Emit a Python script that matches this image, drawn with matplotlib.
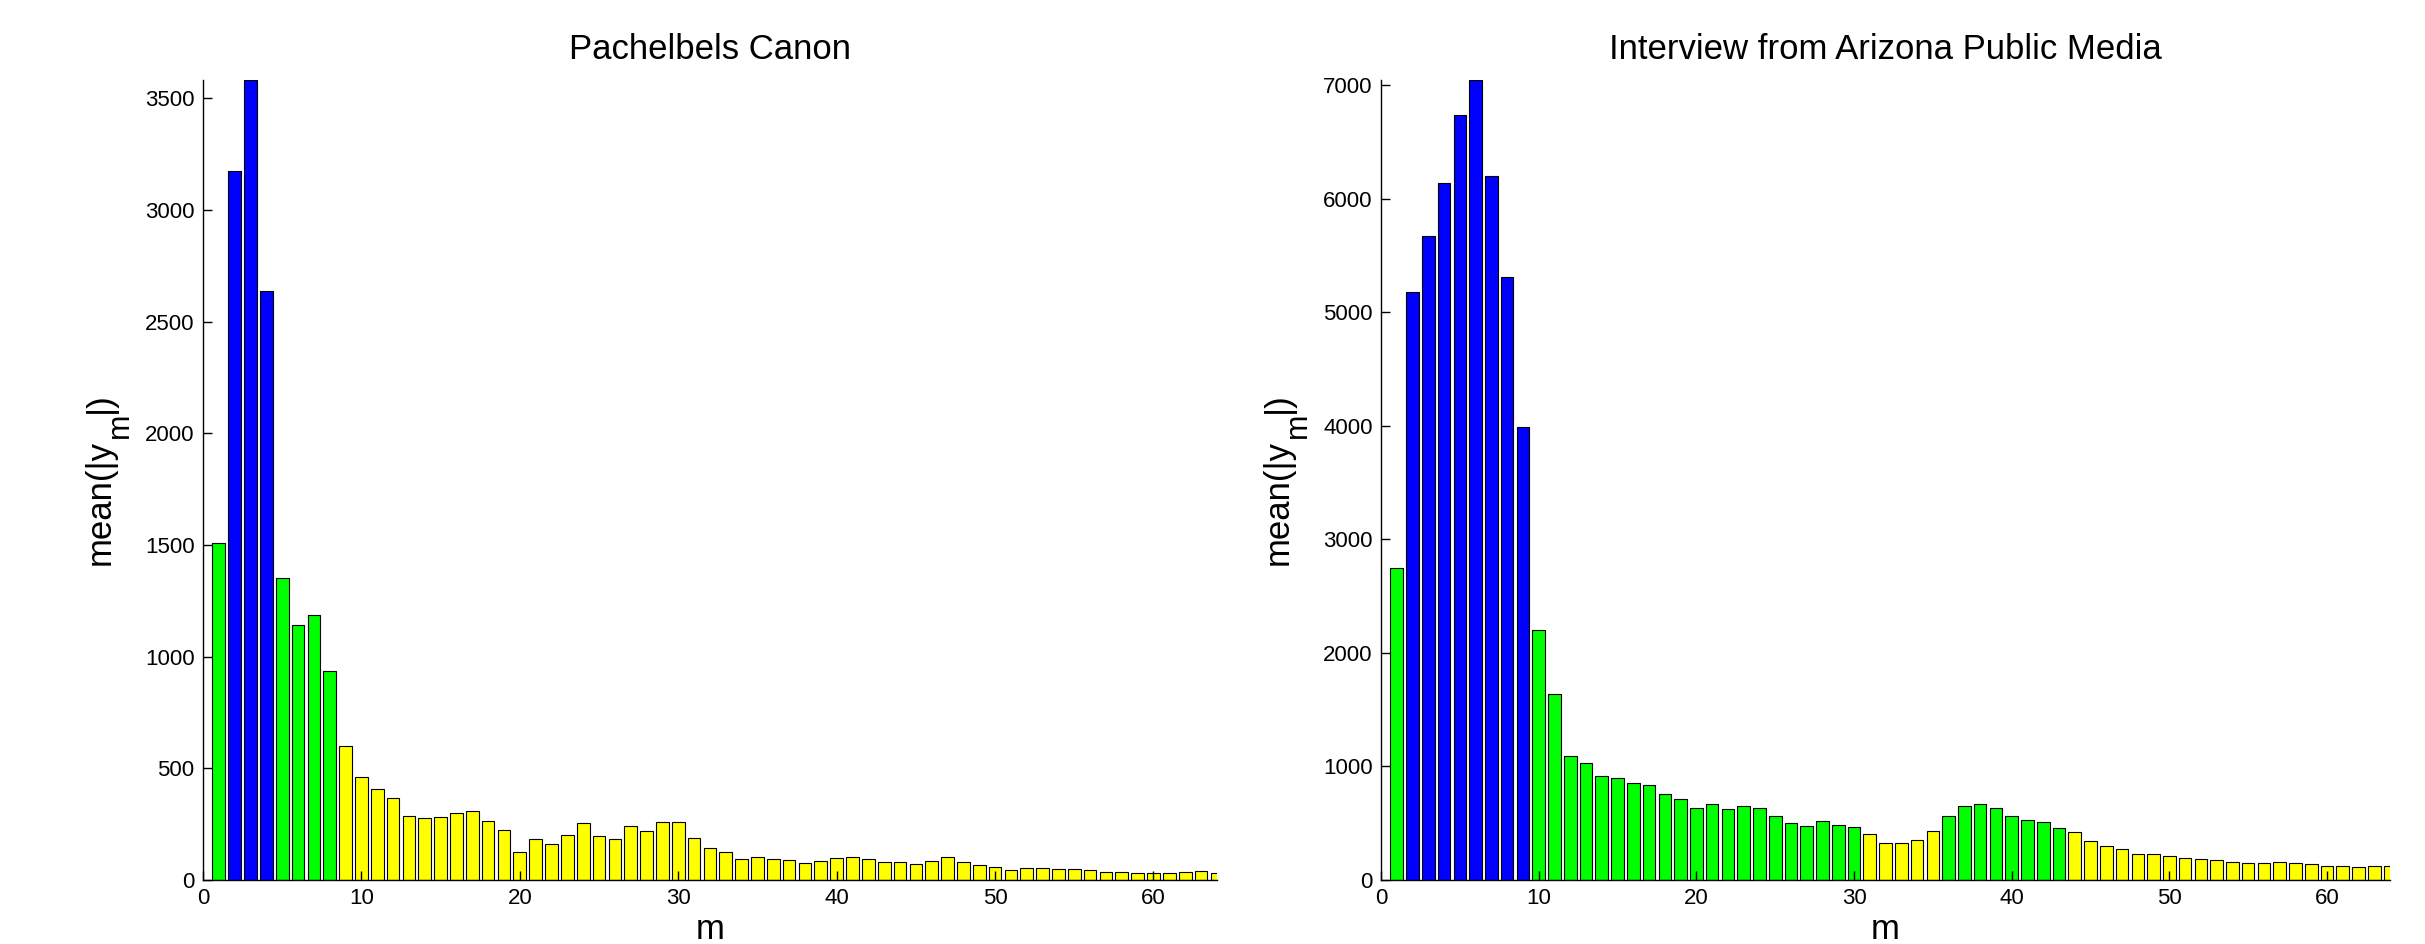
import matplotlib
matplotlib.use('Agg')
import matplotlib.pyplot as plt

plt.rcParams['font.family'] = ['Liberation Sans', 'DejaVu Sans']

# bar index m
m = list(range(1, 65))

# mean(|y_m|) per band
canon = [1510, 3177, 3583, 2640, 1352, 1141, 1185, 935, 600, 460,
         408, 367, 285, 276, 283, 302, 307, 264, 225, 125,
         185, 161, 201, 257, 197, 182, 242, 220, 261, 261,
         188, 145, 127, 94, 104, 96, 89, 78, 83, 97,
         103, 95, 79, 79, 70, 85, 103, 82, 67, 60,
         43, 54, 55, 48, 49, 43, 34, 37, 33, 33,
         31, 36, 40, 33]
interview = [2745, 5175, 5670, 6142, 6741, 7047, 6198, 5307, 3986, 2203,
             1642, 1094, 1033, 920, 896, 858, 835, 759, 712, 637,
             665, 623, 648, 637, 565, 498, 478, 522, 484, 463,
             402, 325, 325, 352, 431, 560, 648, 668, 636, 560,
             531, 507, 454, 425, 340, 296, 270, 229, 226, 214,
             191, 185, 179, 161, 152, 152, 161, 150, 141, 126,
             126, 114, 123, 120]

# group of each bar: b = blue, g = green, y = yellow
canon_groups = 'gbbbgggg' + 'y' * 56
interview_groups = 'g' + 'b' * 8 + 'g' * 21 + 'y' * 5 + 'g' * 8 + 'y' * 21

titles = ['Pachelbels Canon', 'Interview from Arizona Public Media']
ytick_steps = [500, 1000]

group_colors = {'b': '#0000ff', 'g': '#00ff00', 'y': '#ffff00'}


def ylabel_parts(ax, x, y0):
    # mean(|y_m|) with a big, deep subscript like the original
    kw = dict(rotation=90, rotation_mode='anchor', ha='left', va='baseline',
              annotation_clip=False)
    t1 = ax.text(x, y0, 'mean(|y', transform=ax.transAxes, fontsize=25,
                 rotation=90, rotation_mode='anchor', ha='left', va='baseline')
    t2 = ax.annotate('m', xy=(x, 1), xycoords=(ax.transAxes, t1),
                     xytext=(13, 1), textcoords='offset points',
                     fontsize=22, **kw)
    ax.annotate('|)', xy=(x, 1), xycoords=(ax.transAxes, t2),
                xytext=(0, 0), textcoords='offset points',
                fontsize=25, **kw)


def draw_panel(ax, values, groups, title, step):
    colors = [group_colors[g] for g in groups]
    ax.bar(m, values, width=0.8, color=colors, edgecolor='black', linewidth=0.8)
    ax.set_xlim(0, 64)
    ax.set_ylim(0, max(values))
    ax.set_xticks(range(0, 61, 10))
    ax.set_yticks(range(0, int(max(values)) + 1, step))
    ax.spines['top'].set_visible(False)
    ax.spines['right'].set_visible(False)
    for s in ['left', 'bottom']:
        ax.spines[s].set_linewidth(1.0)
    ax.tick_params(direction='in', length=6.5, width=1.0, labelsize=16, pad=6)
    ax.set_title(title, fontsize=25, pad=15)
    ax.set_xlabel('m', fontsize=25)
    ax.xaxis.set_label_coords(0.5, -0.074)
    ax.xaxis.label.set_va('baseline')
    ylabel_parts(ax, -0.092, 0.394)


fig = plt.figure(figsize=(24.25, 9.44), dpi=100)
ax1 = fig.add_axes([0.0837, 0.0678, 0.4181, 0.8475])
ax2 = fig.add_axes([0.5695, 0.0678, 0.4161, 0.8475])

draw_panel(ax1, canon, canon_groups, titles[0], ytick_steps[0])
draw_panel(ax2, interview, interview_groups, titles[1], ytick_steps[1])

fig.savefig('out.png', dpi=100)
